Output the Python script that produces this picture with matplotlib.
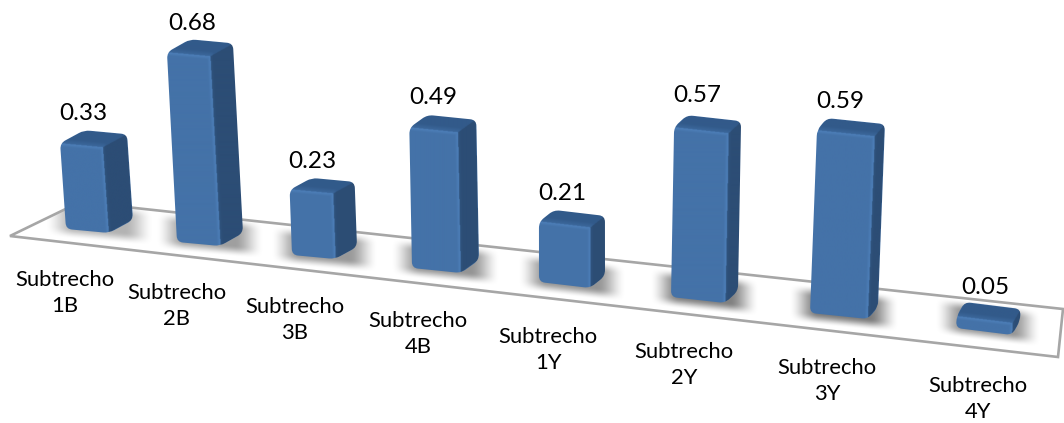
import numpy as np
import matplotlib
matplotlib.use('Agg')
import matplotlib.pyplot as plt
from matplotlib.path import Path
from matplotlib.patches import Polygon

plt.rcParams['font.family'] = ['Lato', 'DejaVu Sans']

categories = ['Subtrecho\n1B', 'Subtrecho\n2B', 'Subtrecho\n3B', 'Subtrecho\n4B',
              'Subtrecho\n1Y', 'Subtrecho\n2Y', 'Subtrecho\n3Y', 'Subtrecho\n4Y']
values = [0.33, 0.68, 0.23, 0.49, 0.21, 0.57, 0.59, 0.05]
value_text = ['%.2f' % v for v in values]

# perspective layout of the bars, all in pixels
base_x = [66, 177, 292, 412, 539, 671, 810, 956]
base_y = [229, 242, 255, 268, 282, 297, 313, 328]
front_w = [43, 43, 43, 49, 51, 54, 58, 56]
front_dy = [4, 4, 4, 5, 6, 6, 6, 7]
depth_dx = [24, 23, 22, 18, 15, 13, 10, 8]
depth_dy = [-13, -13, -12, -13, -12, -12, -12, -14]
px_per_unit = [260, 279, 283, 286, 286, 298, 310, 240]
shadow_peak = [0.30, 0.38, 0.40, 0.42, 0.42, 0.50, 0.52, 0.42]

value_xy = [(83, 113), (192, 22), (312, 160), (433, 97),
            (562, 193), (697, 95), (840, 100), (985, 287)]
label_xy = [(65, 293), (177, 306), (295, 320), (418, 334),
            (548, 350), (684, 365), (827, 381), (978, 399)]
floor_xy = [(10, 236), (80, 202), (1063, 309), (1058, 357)]

FRONT = np.array([68, 114, 168]) / 255
FRONT_EDGE = np.array([78, 128, 186]) / 255
SIDE = np.array([44, 77, 117]) / 255
SIDE_EDGE = np.array([48, 84, 126]) / 255
TOP = np.array([50, 90, 138]) / 255
TOP_EDGE = np.array([60, 104, 156]) / 255


def rounded_path(pts, r):
    """ Closed path through pts with each corner cut by a quadratic curve. """
    pts = np.array(pts, dtype=float)
    n = len(pts)
    verts, codes = [], []
    for i in range(n):
        p0, p1, p2 = pts[i-1], pts[i], pts[(i+1) % n]
        r1 = min(r, np.linalg.norm(p0-p1)/2)
        r2 = min(r, np.linalg.norm(p2-p1)/2)
        a = p1 + (p0-p1)/np.linalg.norm(p0-p1)*r1
        b = p1 + (p2-p1)/np.linalg.norm(p2-p1)*r2
        verts.append(a)
        codes.append(Path.MOVETO if i == 0 else Path.LINETO)
        verts += [p1, b]
        codes += [Path.CURVE3, Path.CURVE3]
    verts.append(verts[0])
    codes.append(Path.CLOSEPOLY)
    return Path(verts, codes)


def line_distance(pts, xx, yy):
    """ Distance from each grid point to the nearest segment of an open polyline. """
    pts = np.array(pts, dtype=float)
    dist = np.full(xx.shape, 1e9)
    for a, b in zip(pts[:-1], pts[1:]):
        ab = b-a
        t = np.clip(((xx-a[0])*ab[0] + (yy-a[1])*ab[1]) / (ab @ ab), 0, 1)
        d = np.hypot(xx-(a[0]+t*ab[0]), yy-(a[1]+t*ab[1]))
        dist = np.minimum(dist, d)
    return dist


def face_colour(lit_edges, base, edge, width, xx, yy):
    # colour eases from the lit edges inwards, a soft bevel
    t = np.clip(line_distance(lit_edges, xx, yy)/width, 0, 1)[..., None]
    return edge*(1-t) + base*t


def draw_shadow(ax, n, clip):
    cx = base_x[n] + (front_w[n]+depth_dx[n])/2
    cy = base_y[n] + (front_dy[n]+depth_dy[n])/2 - 2
    hw = (front_w[n]+depth_dx[n])/2 + 22
    hh = 20
    slope = front_dy[n]/front_w[n]
    xs = np.arange(cx-hw-2, cx+hw+2, 1.0)
    ys = np.arange(cy-hh-12, cy+hh+12, 1.0)
    xx, yy = np.meshgrid(xs, ys)
    u = np.abs(xx-cx)/hw
    v = np.abs(yy-cy-slope*(xx-cx))/hh
    su = np.clip((1-u)/0.55, 0, 1)
    sv = np.clip((1-v)/0.6, 0, 1)
    alpha = shadow_peak[n]*(su*su*(3-2*su))*(sv*sv*(3-2*sv))
    rgba = np.zeros(xx.shape+(4,))
    rgba[..., 3] = alpha
    im = ax.imshow(rgba, extent=(xs[0], xs[-1], ys[-1], ys[0]), origin='upper',
                   interpolation='bilinear', aspect='auto', zorder=2)
    im.set_clip_path(clip, transform=ax.transData)


def draw_bar(ax, n):
    h = values[n]*px_per_unit[n]
    lean = (base_x[n]-545)/6950
    back = np.array([depth_dx[n], depth_dy[n]], dtype=float)
    w, fy = front_w[n], front_dy[n]

    bl = np.array([base_x[n], base_y[n]], dtype=float)
    br = bl + (w, fy)
    tl = bl + (lean*h, -h)
    tr = tl + (w, fy)

    outline = [bl, br, br+back, tr+back, tl+back, tl]
    clip = rounded_path(outline, 6)
    side = [br, br+back, tr+back, tr]
    top = [tl, tr, tr+back, tl+back]

    # one opaque image per bar, so the three faces share their edges without seams
    outline = np.array(outline)
    x0, y0 = outline.min(axis=0)-1
    x1, y1 = outline.max(axis=0)+1
    xx, yy = np.meshgrid(np.linspace(x0, x1, int((x1-x0)*2)+2),
                         np.linspace(y0, y1, int((y1-y0)*2)+2))
    grid = np.c_[xx.ravel(), yy.ravel()]
    rgb = face_colour([br, tr, tl], FRONT, FRONT_EDGE, 3.5, xx, yy)
    in_side = Path(side).contains_points(grid).reshape(xx.shape)
    in_top = Path(top).contains_points(grid).reshape(xx.shape)
    rgb[in_side] = face_colour([br, tr], SIDE, SIDE_EDGE, 3, xx, yy)[in_side]
    rgb[in_top] = face_colour([tl, tr], TOP, TOP_EDGE, 5, xx, yy)[in_top]

    im = ax.imshow(rgb, extent=(x0, x1, y1, y0), origin='upper',
                   interpolation='bilinear', aspect='auto', zorder=4)
    im.set_clip_path(clip, transform=ax.transData)


fig = plt.figure(figsize=(10.64, 4.23), dpi=100)
ax = fig.add_axes([0, 0, 1, 1])

ax.add_patch(Polygon(floor_xy, closed=True, edgecolor='#a6a6a6',
                     linewidth=1.9, joinstyle='miter', zorder=3, fill=False))
floor_clip = Path(floor_xy+[floor_xy[0]], closed=True)

for n in range(len(values)):
    draw_shadow(ax, n, floor_clip)
for n in range(len(values)):
    draw_bar(ax, n)

for n in range(len(values)):
    ax.text(value_xy[n][0], value_xy[n][1]+1, value_text[n], ha='center', va='center',
            fontsize=17.5, color='black', zorder=6)
    ax.text(label_xy[n][0], label_xy[n][1], categories[n], ha='center', va='center',
            fontsize=15.8, color='black', linespacing=1.35, zorder=6)

ax.set_xlim(0, 1064)
ax.set_ylim(423, 0)
ax.axis('off')

fig.savefig('out.png', dpi=100, facecolor='white')
